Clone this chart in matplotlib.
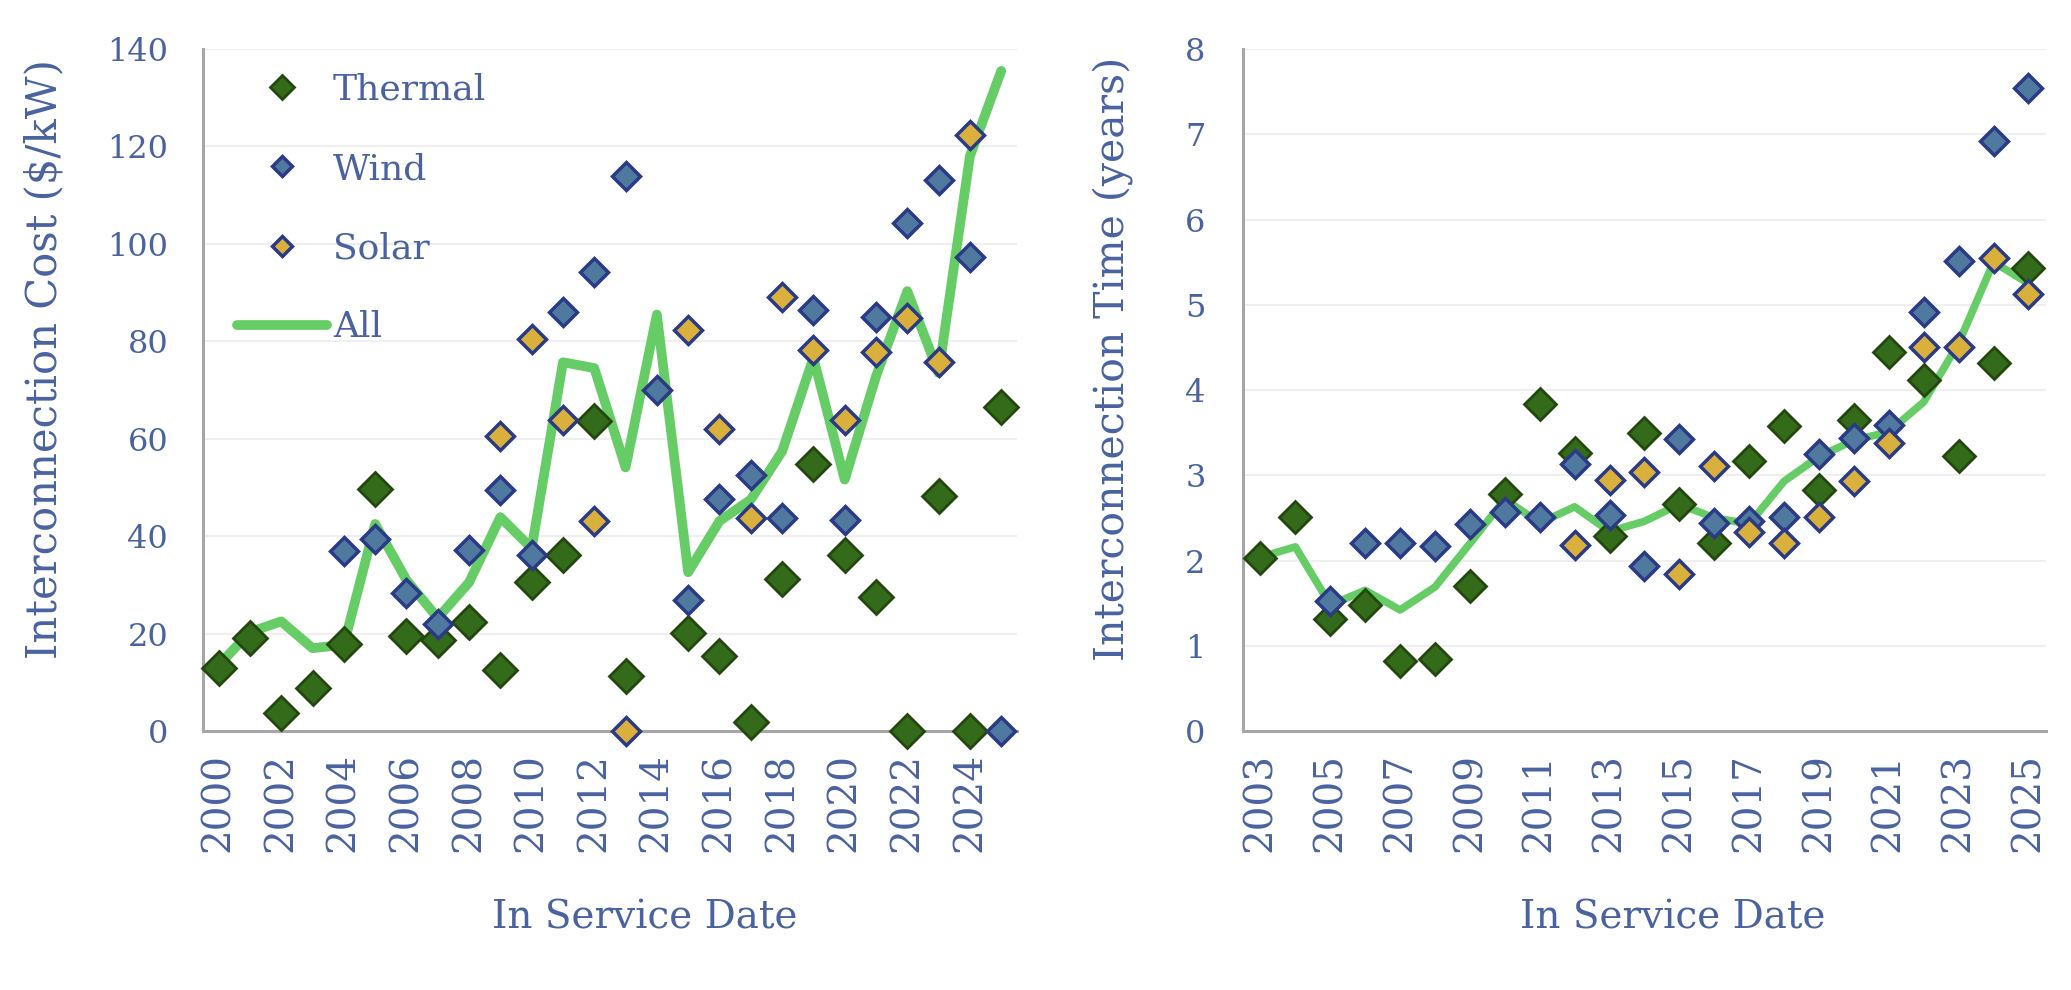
import numpy as np
import matplotlib.pyplot as plt

nan = np.nan

# left chart: interconnection cost ($/kW) by in-service year
cost_years = list(range(2000, 2026))
cost_thermal = [13.0, 19.0, 3.8, 8.9, 17.8, 49.7, 19.5, 18.6, 22.4, 12.5, 30.5, 36.2, 63.6,
                11.3, nan, 20.2, 15.3, 1.9, 31.2, 54.8, 36.2, 27.5, 0.0, 48.2, 0.0, 66.5]
cost_wind = [nan, nan, nan, nan, 37.0, 39.5, 28.4, 21.9, 37.2, 49.4, 36.2, 86.0, 94.2,
             113.9, 70.1, 26.8, 47.7, 52.6, 43.7, 86.4, 43.4, 84.9, 104.3, 113.2, 97.3, 0.0]
cost_solar = [nan, nan, nan, nan, nan, nan, nan, nan, nan, 60.5, 80.5, 63.9, 43.2,
              0.0, nan, 82.4, 62.0, 43.7, 89.1, 78.3, 63.9, 77.8, 84.8, 75.7, 122.3, nan]
cost_all = [13.5, 20.3, 22.5, 17.0, 17.7, 42.5, 31.0, 23.2, 30.5, 43.9, 37.5, 75.7, 74.5,
            54.1, 85.5, 32.6, 43.1, 47.5, 57.4, 76.6, 51.6, 72.8, 90.3, 73.5, 118.0, 135.5]

# right chart: interconnection time (years) by in-service year
time_years = list(range(2003, 2026))
time_thermal = [2.03, 2.51, 1.31, 1.48, 0.82, 0.84, 1.70, 2.78, 3.84, 3.26, 2.29, 3.49,
                2.66, 2.20, 3.17, 3.58, 2.83, 3.65, 4.45, 4.12, 3.23, 4.32, 5.43]
time_wind = [nan, nan, 1.52, 2.21, 2.21, 2.17, 2.43, 2.57, 2.51, 3.13, 2.53, 1.93,
             3.43, 2.44, 2.46, 2.51, 3.25, 3.44, 3.59, 4.92, 5.51, 6.92, 7.54]
time_solar = [nan, nan, nan, nan, nan, nan, nan, nan, nan, 2.18, 2.95, 3.04,
              1.84, 3.11, 2.33, 2.21, 2.51, 2.93, 3.38, 4.51, 4.51, 5.55, 5.13]
time_all = [2.04, 2.16, 1.48, 1.65, 1.42, 1.69, 2.20, 2.72, 2.44, 2.63, 2.34, 2.46,
            2.66, 2.50, 2.43, 2.93, 3.22, 3.41, 3.51, 3.86, 4.55, 5.50, 5.25]

plt.rcParams['font.family'] = ['DejaVu Serif']
txt = '#4a62a0'

fig = plt.figure(figsize=(20.71, 9.90), dpi=100)
ax1 = fig.add_axes([0.0980, 0.2616, 0.3930, 0.6889])
ax2 = fig.add_axes([0.6002, 0.2616, 0.3877, 0.6889])


def draw(ax, years, thermal, wind, solar, allv, lw, ms_big, ms_small):
    x = np.arange(len(years))
    line, = ax.plot(x, allv, color='#66cc66', lw=lw, zorder=2,
                    solid_capstyle='round', solid_joinstyle='round', label='All')
    th, = ax.plot(x, thermal, 'D', ms=ms_big, mfc='#346b1a', mec='#24470f', mew=2,
                  ls='none', clip_on=False, zorder=3, label='Thermal')
    wi, = ax.plot(x, wind, 'D', ms=ms_small, mfc='#50799f', mec='#2b3a85', mew=2.5,
                  ls='none', clip_on=False, zorder=4, label='Wind')
    so, = ax.plot(x, solar, 'D', ms=ms_small, mfc='#d9b03c', mec='#2b3a85', mew=2.5,
                  ls='none', clip_on=False, zorder=5, label='Solar')
    ax.set_xlim(-0.5, len(years) - 0.5)
    ax.set_xticks(x[::2])
    ax.set_xticklabels([str(y) for y in years[::2]], rotation=90)
    ax.grid(axis='y', color='#efefef', lw=1.5)
    ax.set_axisbelow(True)
    for s in ['top', 'right']:
        ax.spines[s].set_visible(False)
    for s in ['left', 'bottom']:
        ax.spines[s].set_color('#a6a6a6')
        ax.spines[s].set_linewidth(2.2)
    ax.tick_params(length=0, labelcolor=txt)
    ax.tick_params(axis='x', pad=16, labelsize=28)
    ax.tick_params(axis='y', pad=25, labelsize=23)
    return th, wi, so, line


h = draw(ax1, cost_years, cost_thermal, cost_wind, cost_solar, cost_all, 7, 17, 14.5)
ax1.set_ylim(0, 140)
ax1.set_yticks(np.arange(0, 141, 20))

draw(ax2, time_years, time_thermal, time_wind, time_solar, time_all, 5.5, 16.5, 14.5)
ax2.set_ylim(0, 8)
ax2.set_yticks(np.arange(0, 9, 1))
ax2.tick_params(axis='y', pad=27)

leg = ax1.legend(handles=list(h), loc='upper left', bbox_to_anchor=(0.042, 0.965),
                 frameon=False, fontsize=26, labelcolor=txt, markerscale=0.72,
                 handlelength=2.5, handletextpad=0.15, labelspacing=1.25,
                 borderpad=0, borderaxespad=0)

ax1.text(-0.195, 0.545, 'Interconnection Cost ($/kW)', transform=ax1.transAxes,
         rotation=90, ha='center', va='center', fontsize=30, color=txt)
ax1.text(0.5424, -0.289, 'In Service Date', transform=ax1.transAxes,
         ha='center', va='baseline', fontsize=28, color=txt)
ax2.text(-0.163, 0.545, 'Interconnection Time (years)', transform=ax2.transAxes,
         rotation=90, ha='center', va='center', fontsize=29.5, color=txt)
ax2.text(0.5355, -0.289, 'In Service Date', transform=ax2.transAxes,
         ha='center', va='baseline', fontsize=28, color=txt)

plt.savefig('out.png', dpi=100)
